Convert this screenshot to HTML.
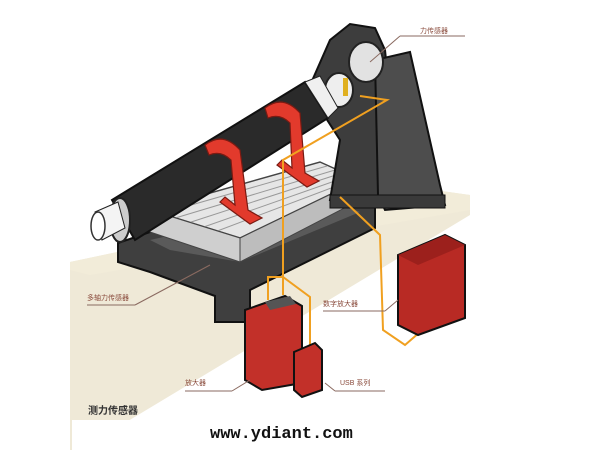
<!DOCTYPE html>
<html><head><meta charset="utf-8"><style>
body{margin:0;background:#fff;width:600px;height:450px;overflow:hidden}
svg{display:block}
.t{font-family:"Liberation Sans","Noto Sans CJK SC",sans-serif}
</style></head><body>
<svg width="600" height="450" viewBox="0 0 600 450">
<!-- desk -->
<polygon points="70,262 420,188 470,195 470,215 80,450 70,450" fill="#efe9d7"/>
<polygon points="70,262 420,188 470,195 470,210 90,275 70,270" fill="#f2ecd9"/>
<rect x="72" y="420" width="330" height="30" fill="#fff"/>
<!-- base frame -->
<polygon points="118,243 150,232 340,190 375,205 375,228 250,290 250,322 215,322 215,296 150,272 118,262" fill="#3f3f3f" stroke="#111" stroke-width="2"/>
<polygon points="150,240 330,200 360,212 240,262 170,250" fill="#5a5a5a"/>
<!-- platform grid -->
<polygon points="150,210 320,162 360,180 240,238" fill="#e6e6e6" stroke="#444" stroke-width="1.5"/>
<g stroke="#999" stroke-width="1">
<line x1="160" y1="214" x2="327" y2="166"/><line x1="172" y1="219" x2="335" y2="170"/><line x1="185" y1="224" x2="342" y2="173"/><line x1="198" y1="229" x2="349" y2="176"/><line x1="212" y1="233" x2="355" y2="179"/>
</g>
<polygon points="150,210 240,238 240,262 150,232" fill="#cfcfcf" stroke="#444"/>
<polygon points="240,238 360,180 360,200 240,262" fill="#bdbdbd" stroke="#444"/>
<!-- pillar -->
<polygon points="308,90 330,40 350,24 375,28 385,50 400,200 330,200 340,140" fill="#3d3d3d" stroke="#111" stroke-width="2"/>
<polygon points="375,60 410,52 440,185 445,205 385,210 378,195" fill="#4d4d4d" stroke="#111" stroke-width="2"/>
<polygon points="330,195 445,195 445,208 330,208" fill="#3a3a3a" stroke="#111"/>
<ellipse cx="366" cy="62" rx="17" ry="20" fill="#e2e2e2" stroke="#222" stroke-width="2"/>
<ellipse cx="339" cy="90" rx="14" ry="17" fill="#eee" stroke="#222" stroke-width="2"/>
<rect x="343" y="78" width="5" height="18" fill="#e0b020"/>
<!-- cylinder -->
<polygon points="112,200 305,82 328,118 135,240" fill="#2a2a2a" stroke="#111" stroke-width="2"/>
<polygon points="305,82 320,76 338,108 328,118" fill="#f0f0f0" stroke="#222"/>
<ellipse cx="120" cy="220" rx="10" ry="22" fill="#ccc" stroke="#222" stroke-width="2"/>
<polygon points="95,212 118,202 125,228 102,240" fill="#f4f4f4" stroke="#222"/>
<ellipse cx="98" cy="226" rx="7" ry="14" fill="#fff" stroke="#333" stroke-width="1.5"/>
<!-- red brackets -->
<path d="M205,145 q18,-14 35,5 l8,60 l14,8 l-12,6 l-30,-22 l5,-5 l10,8 l-4,-45 q-10,-10 -22,-5z" fill="#e23a2c" stroke="#7a1a12" stroke-width="1.2"/>
<path d="M265,108 q18,-14 35,5 l5,60 l14,8 l-12,6 l-30,-22 l5,-5 l10,8 l-2,-45 q-10,-10 -22,-5z" fill="#e23a2c" stroke="#7a1a12" stroke-width="1.2"/>
<!-- orange wires -->
<g fill="none" stroke="#f0a020" stroke-width="2">
<polyline points="360,96 387,100 283,160 283,295"/>
<polyline points="340,197 380,235 383,330 405,345 420,332"/>
<polyline points="268,300 268,277 283,277 310,297 310,345"/>
</g>
<!-- devices -->
<polygon points="245,310 285,296 302,306 302,383 262,390 245,380" fill="#c23029" stroke="#111" stroke-width="2"/>
<polygon points="265,302 290,296 296,304 270,310" fill="#555"/>
<polygon points="294,352 315,343 322,350 322,390 302,397 294,390" fill="#c23029" stroke="#111" stroke-width="2"/>
<polygon points="398,255 445,235 465,245 465,318 418,335 398,325" fill="#b82a24" stroke="#111" stroke-width="2"/>
<polygon points="398,255 445,235 465,245 418,265" fill="#9c201c"/>
<!-- labels -->
<g class="t" font-size="7" fill="#8a4b3c">
<text x="420" y="33">力传感器</text><line x1="400" y1="36" x2="465" y2="36" stroke="#8a6a60"/><line x1="370" y1="62" x2="400" y2="36" stroke="#8a6a60"/>
<text x="87" y="300">多轴力传感器</text><line x1="87" y1="305" x2="135" y2="305" stroke="#8a6a60"/><line x1="135" y1="305" x2="210" y2="265" stroke="#8a6a60"/>
<text x="323" y="306">数字放大器</text><line x1="323" y1="311" x2="385" y2="311" stroke="#8a6a60"/><line x1="385" y1="311" x2="398" y2="300" stroke="#8a6a60"/>
<text x="185" y="385">放大器</text><line x1="185" y1="391" x2="232" y2="391" stroke="#8a6a60"/><line x1="232" y1="391" x2="250" y2="380" stroke="#8a6a60"/>
<text x="340" y="385">USB 系列</text><line x1="335" y1="391" x2="385" y2="391" stroke="#8a6a60"/><line x1="335" y1="391" x2="325" y2="383" stroke="#8a6a60"/>
</g>
<text class="t" x="88" y="414" font-size="10" font-weight="bold" fill="#333">测力传感器</text>
<text x="210" y="438" style="font-family:'Liberation Mono',monospace;font-size:17px;font-weight:bold" fill="#111">www.ydiant.com</text>
</svg>
</body></html>
